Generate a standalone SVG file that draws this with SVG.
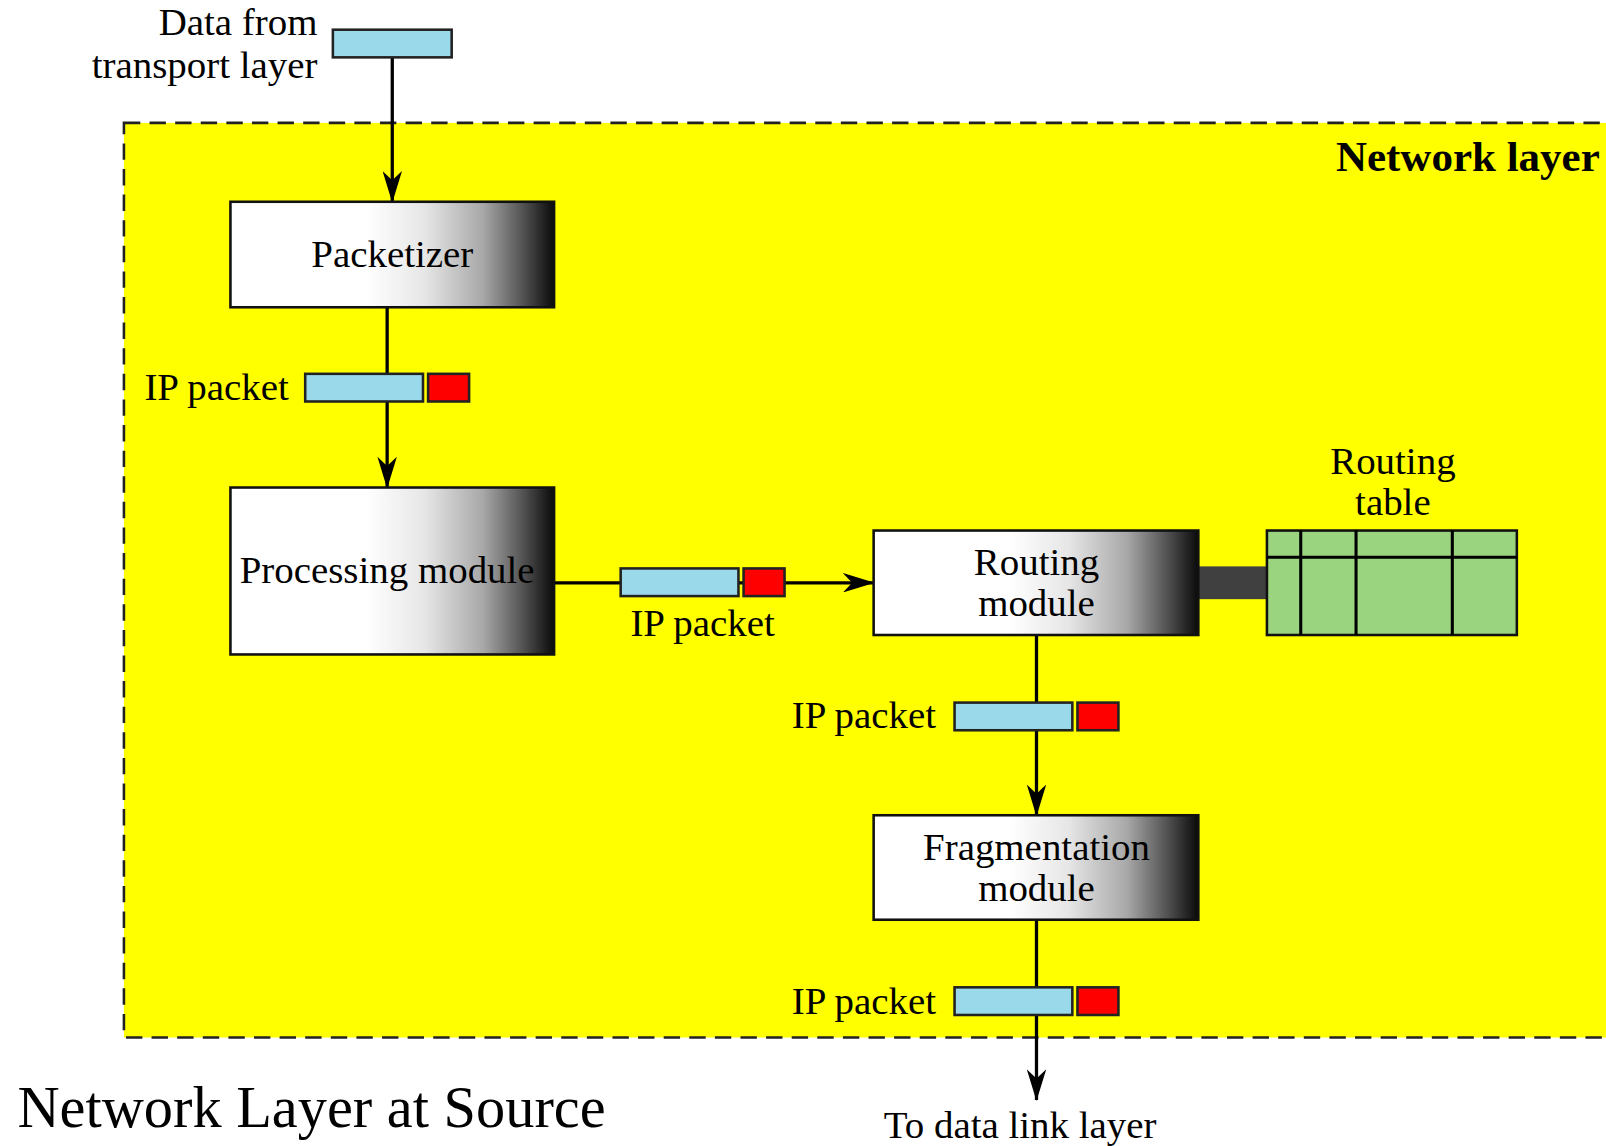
<svg xmlns="http://www.w3.org/2000/svg" width="1606" height="1146" viewBox="0 0 1606 1146">
<style>
.t{font-family:"Liberation Serif","Times New Roman",serif;font-size:38px;fill:#000}
.box{stroke:#111;stroke-width:2.5;fill:url(#grad)}
.blue{fill:#9ad9ea;stroke:#222;stroke-width:2.5}
.red{fill:#ff0000;stroke:#222;stroke-width:2.5}
.ln{stroke:#000;stroke-width:3;fill:none}
.arr{stroke:#000;stroke-width:3.2;fill:none;marker-end:url(#ah)}
</style>
<defs>
<linearGradient id="grad" x1="0" y1="0" x2="1" y2="0">
<stop offset="0" stop-color="#fff"/>
<stop offset="0.42" stop-color="#fff"/>
<stop offset="0.6" stop-color="#e6e6e6"/>
<stop offset="0.78" stop-color="#a8a8a8"/>
<stop offset="0.9" stop-color="#555"/>
<stop offset="1" stop-color="#0a0a0a"/>
</linearGradient>
<marker id="ah" markerWidth="31" markerHeight="19" refX="30" refY="9.5" orient="auto" markerUnits="userSpaceOnUse">
<path d="M0,0 L31,9.5 L0,19 L9,9.5 Z" fill="#000"/>
</marker>
</defs>
<rect width="1606" height="1146" fill="#fff"/>
<g transform="scale(1.0242)">
<rect id="network-layer" x="121" y="120" width="1500" height="893" fill="#ffff00" stroke="#222" stroke-width="2.5" stroke-dasharray="16,9"/>
<text class="t" x="1562" y="167" text-anchor="end" style="font-weight:bold;font-size:42px">Network layer</text>

<g id="connectors">
<line class="arr" x1="383" y1="56" x2="383" y2="197"/>
<line class="arr" x1="378" y1="300" x2="378" y2="476"/>
<line class="arr" x1="541" y1="569" x2="853" y2="569"/>
<line class="arr" x1="1012" y1="620" x2="1012" y2="796"/>
<line class="arr" x1="1012" y1="898" x2="1012" y2="1074"/>
<rect x="1170" y="553" width="67" height="32" fill="#404040"/>
</g>

<g id="data-from-transport">
<rect class="blue" x="325" y="29" width="116" height="27"/>
<text class="t" x="310" y="34" text-anchor="end">Data from</text>
<text class="t" x="310" y="76" text-anchor="end">transport layer</text>
</g>

<g id="packetizer">
<rect class="box" x="225" y="197" width="316" height="103"/>
<text class="t" x="383" y="261" text-anchor="middle">Packetizer</text>
</g>

<g id="packet1">
<rect class="blue" x="298" y="365" width="115" height="27"/>
<rect class="red" x="418" y="365" width="40" height="27"/>
<text class="t" x="282" y="391" text-anchor="end">IP packet</text>
</g>

<g id="processing-module">
<rect class="box" x="225" y="476" width="316" height="163"/>
<text class="t" x="378" y="569" text-anchor="middle">Processing module</text>
</g>

<g id="packet2">
<rect class="blue" x="606" y="555" width="115" height="27"/>
<rect class="red" x="726" y="555" width="40" height="27"/>
<text class="t" x="686" y="621" text-anchor="middle">IP packet</text>
</g>

<g id="routing-module">
<rect class="box" x="853" y="518" width="317" height="102"/>
<text class="t" x="1012" y="561" text-anchor="middle">Routing</text>
<text class="t" x="1012" y="601" text-anchor="middle">module</text>
</g>

<g id="routing-table">
<rect x="1237" y="518" width="244" height="102" fill="#9bd47e" stroke="#111" stroke-width="2.5"/>
<line class="ln" x1="1237" y1="544" x2="1481" y2="544" stroke-width="2.5"/>
<line class="ln" x1="1270" y1="518" x2="1270" y2="620" stroke-width="2.5"/>
<line class="ln" x1="1324" y1="518" x2="1324" y2="620" stroke-width="2.5"/>
<line class="ln" x1="1418" y1="518" x2="1418" y2="620" stroke-width="2.5"/>
<text class="t" x="1360" y="463" text-anchor="middle">Routing</text>
<text class="t" x="1360" y="503" text-anchor="middle">table</text>
</g>

<g id="packet3">
<rect class="blue" x="932" y="686" width="115" height="27"/>
<rect class="red" x="1052" y="686" width="40" height="27"/>
<text class="t" x="914" y="711" text-anchor="end">IP packet</text>
</g>

<g id="fragmentation-module">
<rect class="box" x="853" y="796" width="317" height="102"/>
<text class="t" x="1012" y="840" text-anchor="middle">Fragmentation</text>
<text class="t" x="1012" y="880" text-anchor="middle">module</text>
</g>

<g id="packet4">
<rect class="blue" x="932" y="964" width="115" height="27"/>
<rect class="red" x="1052" y="964" width="40" height="27"/>
<text class="t" x="914" y="990" text-anchor="end">IP packet</text>
</g>

<text class="t" x="996" y="1111" text-anchor="middle">To data link layer</text>
<text class="t" x="17" y="1100" style="font-size:57px">Network Layer at Source</text>
</g>
</svg>
